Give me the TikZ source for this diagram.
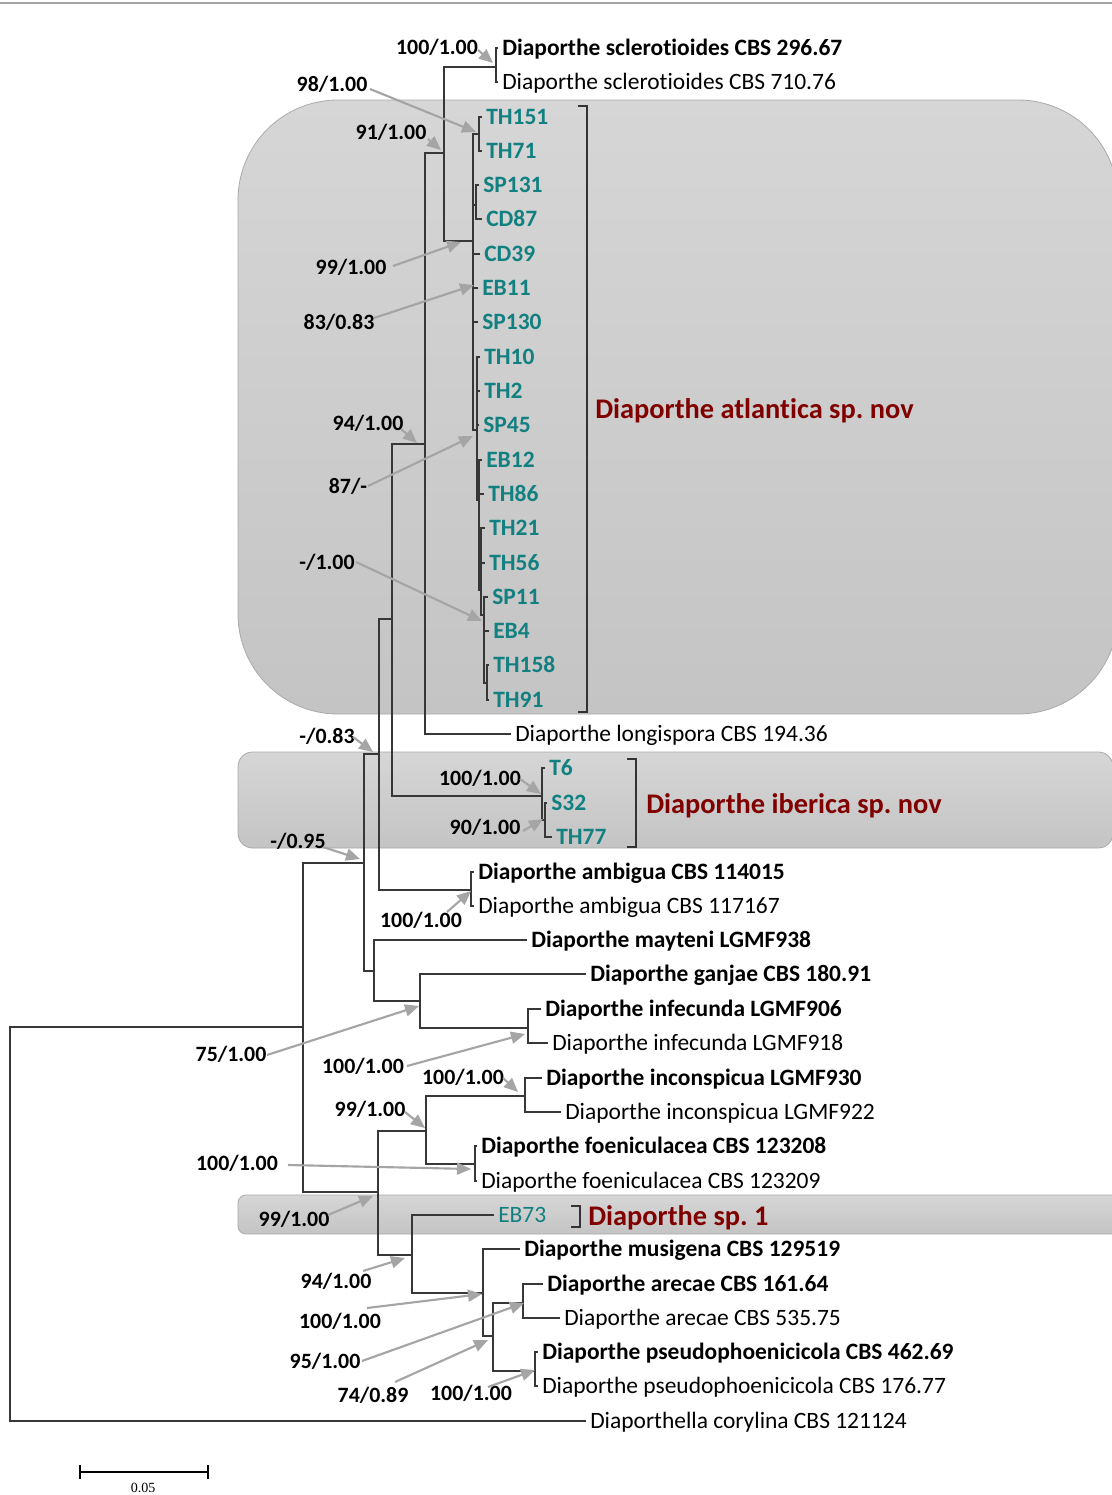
\documentclass[tikz,border=0pt]{standalone}
\usepackage{fontspec}
\setmainfont{Carlito}[Ligatures=NoCommon]
\newfontfamily\scalebarfont{Liberation Serif}
\usetikzlibrary{arrows.meta,calc}
\definecolor{isoteal}{RGB}{18,128,128}
\definecolor{cladered}{RGB}{128,0,0}
\definecolor{branch}{RGB}{55,55,55}
\definecolor{arrowgray}{RGB}{165,165,165}
\definecolor{boxedge}{RGB}{170,170,170}
\definecolor{boxtop}{RGB}{214,214,214}
\definecolor{boxbot}{RGB}{196,196,196}
\frenchspacing
\begin{document}
\begin{tikzpicture}[x=0.75pt,y=-0.75pt,
 br/.style={draw=branch,line width=0.9pt},
 leaf/.style={anchor=west,inner xsep=3pt,inner ysep=0pt,text height=11.3pt,text depth=0pt,font=\fontsize{17.6}{20}\selectfont},
 leafb/.style={leaf,font=\fontsize{17.6}{20}\selectfont\bfseries},
 iso/.style={leafb,text=isoteal},
 isor/.style={leaf,text=isoteal},
 boot/.style={inner sep=0pt,text height=10.5pt,text depth=0pt,font=\fontsize{16.4}{18}\selectfont\bfseries},
 bootarrow/.style={draw=arrowgray,line width=1.6pt,-{Triangle[length=10.5pt,width=9pt]}},
 clade/.style={anchor=west,inner sep=0pt,text height=13.7pt,text depth=0pt,text=cladered,font=\fontsize{21.3}{24}\selectfont\bfseries},
 cladebox/.style={draw=boxedge,line width=0.6pt,top color=boxtop,bottom color=boxbot},
 bracket/.style={draw=black!80,line width=1pt}
]
\useasboundingbox (0,0) rectangle (1112,1495);
\fill[white] (0,0) rectangle (1112,1495);
\draw[arrowgray,line width=1.5pt] (0,3) -- (1112,3);

% clade boxes
\path[cladebox,rounded corners=75pt] (238,100) rectangle (1118,714);
\path[cladebox,rounded corners=11pt] (238,752) rectangle (1113,848);
\path[cladebox,rounded corners=6pt] (238,1195) rectangle (1125,1234);

% brackets
\draw[bracket] (578,106) -- (587,106) -- (587,712) -- (578,712);
\draw[bracket] (627,759) -- (636,759) -- (636,847) -- (627,847);
\draw[bracket] (571,1206) -- (580,1206) -- (580,1227) -- (571,1227);
\node[clade] (atl) at (595,409) {Diaporthe atlantica sp. nov};
\node[clade] (ibe) at (646,804) {Diaporthe iberica sp. nov};
\node[clade] (sp1) at (588,1216) {Diaporthe sp. 1};

% leaves
\node[leafb] (scl1) at (498,48) {Diaporthe sclerotioides CBS 296.67};
\node[leaf] (scl2) at (498,82) {Diaporthe sclerotioides CBS 710.76};
\node[iso] (th151) at (482,117) {TH151};
\node[iso] (th71) at (482,151) {TH71};
\node[iso] (sp131) at (479,185) {SP131};
\node[iso] (cd87) at (482,219) {CD87};
\node[iso] (cd39) at (480,254) {CD39};
\node[iso] (eb11) at (478,288) {EB11};
\node[iso] (sp130) at (478,322) {SP130};
\node[iso] (th10) at (480,357) {TH10};
\node[iso] (th2) at (480,391) {TH2};
\node[iso] (sp45) at (479,425) {SP45};
\node[iso] (eb12) at (482,460) {EB12};
\node[iso] (th86) at (484,494) {TH86};
\node[iso] (th21) at (485,528) {TH21};
\node[iso] (th56) at (485,563) {TH56};
\node[iso] (sp11) at (488,597) {SP11};
\node[iso] (eb4) at (489,631) {EB4};
\node[iso] (th158) at (489,665) {TH158};
\node[iso] (th91) at (489,700) {TH91};
\node[leaf] (lon) at (511,734) {Diaporthe longispora CBS 194.36};
\node[iso] (t6) at (545,768) {T6};
\node[iso] (s32) at (547,803) {S32};
\node[iso] (th77) at (552,837) {TH77};
\node[leafb] (amb1) at (474,872) {Diaporthe ambigua CBS 114015};
\node[leaf] (amb2) at (474,906) {Diaporthe ambigua CBS 117167};
\node[leafb] (may) at (527,940) {Diaporthe mayteni LGMF938};
\node[leafb] (gan) at (586,974) {Diaporthe ganjae CBS 180.91};
\node[leafb] (inf1) at (541,1009) {Diaporthe infecunda LGMF906};
\node[leaf] (inf2) at (548,1043) {Diaporthe infecunda LGMF918};
\node[leafb] (inc1) at (542,1078) {Diaporthe inconspicua LGMF930};
\node[leaf] (inc2) at (561,1112) {Diaporthe inconspicua LGMF922};
\node[leafb] (foe1) at (477,1146) {Diaporthe foeniculacea CBS 123208};
\node[leaf] (foe2) at (477,1181) {Diaporthe foeniculacea CBS 123209};
\node[isor] (eb73) at (494,1215) {EB73};
\node[leafb] (mus) at (520,1249) {Diaporthe musigena CBS 129519};
\node[leafb] (are1) at (543,1284) {Diaporthe arecae CBS 161.64};
\node[leaf] (are2) at (560,1318) {Diaporthe arecae CBS 535.75};
\node[leafb] (pse1) at (538,1352) {Diaporthe pseudophoenicicola CBS 462.69};
\node[leaf] (pse2) at (538,1386) {Diaporthe pseudophoenicicola CBS 176.77};
\node[leaf] (cor) at (586,1421) {Diaporthella corylina CBS 121124};

% internal nodes
\coordinate (R) at (10,1224);
\coordinate (A) at (303,1027);
\coordinate (B) at (364,863);
\coordinate (C) at (378,1192);
\coordinate (J) at (379,754);
\coordinate (K) at (374,971);
\coordinate (M) at (392,619);
\coordinate (AM) at (471,890);
\coordinate (N) at (425,444);
\coordinate (I1) at (542,796);
\coordinate (I2) at (545,820);
\coordinate (O) at (444,153);
\coordinate (S) at (496,67);
\coordinate (P) at (473,241);
\coordinate (Q) at (479,134);
\coordinate (U1) at (476,205);
\coordinate (V) at (477,430);
\coordinate (W) at (479,500);
\coordinate (X) at (481,590);
\coordinate (Y) at (484,615);
\coordinate (Z) at (487,683);
\coordinate (L) at (420,1001);
\coordinate (INF) at (528,1028);
\coordinate (D) at (426,1131);
\coordinate (E) at (412,1255);
\coordinate (INC) at (525,1096);
\coordinate (FOE) at (475,1164);
\coordinate (F) at (483,1293);
\coordinate (G) at (493,1336);
\coordinate (H) at (523,1303);
\coordinate (I) at (535,1371);

% branches
\draw[br] (R) |- (A); \draw[br] (R) |- (cor.west);
\draw[br] (A) |- (B); \draw[br] (A) |- (C);
\draw[br] (B) |- (J); \draw[br] (B) |- (K);
\draw[br] (J) |- (M); \draw[br] (J) |- (AM);
\draw[br] (M) |- (N); \draw[br] (M) |- (I1);
\draw[br] (N) |- (O); \draw[br] (N) |- (lon.west);
\draw[br] (O) |- (S); \draw[br] (O) |- (P);
\draw[br] (S) |- (scl1.west); \draw[br] (S) |- (scl2.west);
\draw[br] (P) |- (Q); \draw[br] (P) |- (U1); \draw[br] (P) |- (cd39.west);
\draw[br] (P) |- (eb11.west); \draw[br] (P) |- (sp130.west); \draw[br] (P) |- (V);
\draw[br] (Q) |- (th151.west); \draw[br] (Q) |- (th71.west);
\draw[br] (U1) |- (sp131.west); \draw[br] (U1) |- (cd87.west);
\draw[br] (V) |- (th10.west); \draw[br] (V) |- (th2.west); \draw[br] (V) |- (sp45.west); \draw[br] (V) |- (W);
\draw[br] (W) |- (eb12.west); \draw[br] (W) |- (th86.west); \draw[br] (W) |- (X);
\draw[br] (X) |- (th21.west); \draw[br] (X) |- (th56.west); \draw[br] (X) |- (Y);
\draw[br] (Y) |- (sp11.west); \draw[br] (Y) |- (eb4.west); \draw[br] (Y) |- (Z);
\draw[br] (Z) |- (th158.west); \draw[br] (Z) |- (th91.west);
\draw[br] (I1) |- (t6.west); \draw[br] (I1) |- (I2);
\draw[br] (I2) |- (s32.west); \draw[br] (I2) |- (th77.west);
\draw[br] (AM) |- (amb1.west); \draw[br] (AM) |- (amb2.west);
\draw[br] (K) |- (may.west); \draw[br] (K) |- (L);
\draw[br] (L) |- (gan.west); \draw[br] (L) |- (INF);
\draw[br] (INF) |- (inf1.west); \draw[br] (INF) |- (inf2.west);
\draw[br] (C) |- (D); \draw[br] (C) |- (E);
\draw[br] (D) |- (INC); \draw[br] (D) |- (FOE);
\draw[br] (INC) |- (inc1.west); \draw[br] (INC) |- (inc2.west);
\draw[br] (FOE) |- (foe1.west); \draw[br] (FOE) |- (foe2.west);
\draw[br] (E) |- (eb73.west); \draw[br] (E) |- (F);
\draw[br] (F) |- (mus.west); \draw[br] (F) |- (G);
\draw[br] (G) |- (H); \draw[br] (G) |- (I);
\draw[br] (H) |- (are1.west); \draw[br] (H) |- (are2.west);
\draw[br] (I) |- (pse1.west); \draw[br] (I) |- (pse2.west);

% support labels
\node[boot] (b1) at (437,48) {100/1.00};
\node[boot] (b2) at (332,84) {98/1.00};
\node[boot] (b3) at (391,132) {91/1.00};
\node[boot] (b4) at (351,267) {99/1.00};
\node[boot] (b5) at (339,322) {83/0.83};
\node[boot] (b6) at (368,423) {94/1.00};
\node[boot] (b7) at (348,486) {87/-};
\node[boot] (b8) at (327,562) {-/1.00};
\node[boot] (b9) at (327,736) {-/0.83};
\node[boot] (b10) at (480,778) {100/1.00};
\node[boot] (b11) at (485,827) {90/1.00};
\node[boot] (b12) at (298,841) {-/0.95};
\node[boot] (b13) at (421,920) {100/1.00};
\node[boot] (b14) at (231,1054) {75/1.00};
\node[boot] (b15) at (363,1066) {100/1.00};
\node[boot] (b16) at (463,1077) {100/1.00};
\node[boot] (b17) at (370,1109) {99/1.00};
\node[boot] (b18) at (237,1163) {100/1.00};
\node[boot] (b19) at (294,1219) {99/1.00};
\node[boot] (b20) at (336,1281) {94/1.00};
\node[boot] (b21) at (340,1321) {100/1.00};
\node[boot] (b22) at (325,1361) {95/1.00};
\node[boot] (b23) at (373,1395) {74/0.89};
\node[boot] (b24) at (471,1393) {100/1.00};

% arrow tips
\coordinate (t1) at (493,63);
\coordinate (t2) at (476,132);
\coordinate (t3) at (441,150);
\coordinate (t4) at (461,242);
\coordinate (t5) at (474,285);
\coordinate (t6) at (417,443);
\coordinate (t7) at (473,436);
\coordinate (t8) at (482,621);
\coordinate (t9) at (373,752);
\coordinate (t10) at (541,794);
\coordinate (t11) at (543,819);
\coordinate (t12) at (360,859);
\coordinate (t13) at (471,891);
\coordinate (t14) at (419,1006);
\coordinate (t15) at (525,1034);
\coordinate (t16) at (518,1092);
\coordinate (t17) at (425,1128);
\coordinate (t18) at (471,1169);
\coordinate (t19) at (373,1196);
\coordinate (t20) at (405,1258);
\coordinate (t21) at (482,1294);
\coordinate (t22) at (524,1303);
\coordinate (t23) at (488,1340);
\coordinate (t24) at (535,1370);

\draw[bootarrow] ($(b1)+(41,2)$) -- (t1);
\draw[bootarrow] ($(b2)+(38,5)$) -- (t2);
\draw[bootarrow] ($(b3)+(37,7)$) -- (t3);
\draw[bootarrow] ($(b4)+(42,-1)$) -- (t4);
\draw[bootarrow] ($(b5)+(35,-4)$) -- (t5);
\draw[bootarrow] ($(b6)+(33,6)$) -- (t6);
\draw[bootarrow] ($(b7)+(20,0)$) -- (t7);
\draw[bootarrow] ($(b8)+(29,0)$) -- (t8);
\draw[bootarrow] ($(b9)+(26,1)$) -- (t9);
\draw[bootarrow] ($(b10)+(40,1)$) -- (t10);
\draw[bootarrow] ($(b11)+(38,4)$) -- (t11);
\draw[bootarrow] ($(b12)+(25,6)$) -- (t12);
\draw[bootarrow] ($(b13)+(26,-8)$) -- (t13);
\draw[bootarrow] ($(b14)+(36,1)$) -- (t14);
\draw[bootarrow] ($(b15)+(44,0)$) -- (t15);
\draw[bootarrow] ($(b16)+(40,1)$) -- (t16);
\draw[bootarrow] ($(b17)+(35,3)$) -- (t17);
\draw[bootarrow] ($(b18)+(51,2)$) -- (t18);
\draw[bootarrow] ($(b19)+(34,-4)$) -- (t19);
\draw[bootarrow] ($(b20)+(27,-10)$) -- (t20);
\draw[bootarrow] ($(b21)+(27,-13)$) -- (t21);
\draw[bootarrow] ($(b22)+(37,0)$) -- (t22);
\draw[bootarrow] ($(b23)+(22,-13)$) -- (t23);
\draw[bootarrow] ($(b24)+(17,-6)$) -- (t24);

% scale bar
\coordinate (sb1) at (80,1472);
\coordinate (sb2) at (208,1472);
\draw[black,line width=1.1pt] (sb1) -- (sb2);
\draw[black,line width=1.1pt] ($(sb1)+(0,-7)$) -- ($(sb1)+(0,7)$);
\draw[black,line width=1.1pt] ($(sb2)+(0,-7)$) -- ($(sb2)+(0,7)$);
\node[inner sep=0pt,font=\scalebarfont\fontsize{10.5}{12}\selectfont] (sbl) at (143,1488) {0.05};
\end{tikzpicture}
\end{document}
